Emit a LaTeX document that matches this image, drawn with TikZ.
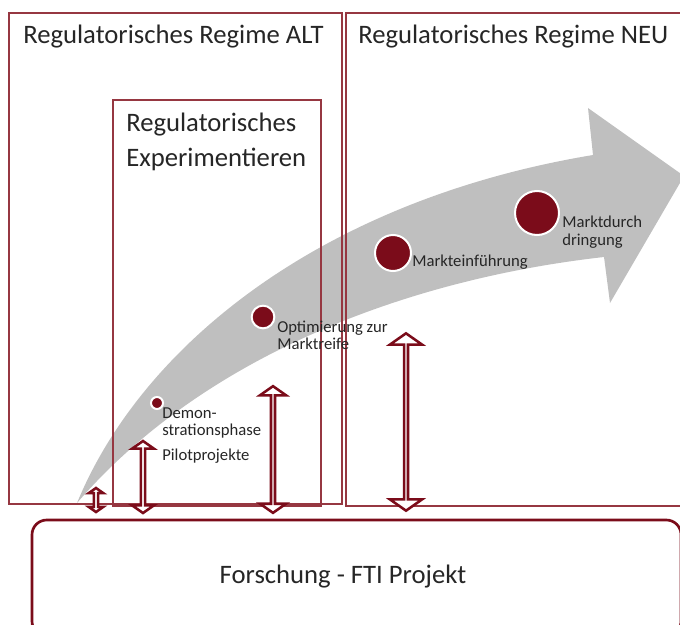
\documentclass[tikz,border=0pt]{standalone}
\usepackage{fontspec}
\setmainfont{Carlito}
\usetikzlibrary{shapes.arrows}
\definecolor{fwred}{RGB}{123,12,26}
\definecolor{rgline}{RGB}{150,55,65}
\definecolor{pathgray}{RGB}{191,191,191}
\definecolor{txtgray}{RGB}{38,38,38}

\begin{document}
\begin{tikzpicture}[x=0.75pt,y=0.75pt,yscale=-1,xscale=1,
  regbox/.style={draw=rgline, line width=0.8pt},
  phasedot/.style={circle, fill=fwred, draw=white, line width=1.5pt, inner sep=0pt},
  phaselbl/.style={anchor=west, inner sep=0.75pt, align=left, text=txtgray, font=\fontsize{12.5}{13}\selectfont},
  bigtitle/.style={anchor=west, inner sep=0.75pt, align=left, text=txtgray, font=\fontsize{20}{26}\selectfont},
  dblarr/.style={double arrow, shape border rotate=90, draw=fwred, fill=white, line width=1.9pt, inner sep=0pt, double arrow tip angle=110}
]
\useasboundingbox (0,0) rectangle (680,624);
\clip (0,0) rectangle (680,624);

%Shape: Curved Arrow [id:gray]
\fill[pathgray] (77,503) .. controls (142,345) and (322,200) .. (593,155) -- (588,108) -- (684,176) -- (610,303) -- (604,257) .. controls (400,280) and (200,360) .. (77,503) -- cycle ;

%Shape: Rectangle [id:alt]
\draw[regbox] (9,13) rectangle (342,504) ;
%Shape: Rectangle [id:neu]
\draw[regbox] (346,13) rectangle (700,506) ;
%Shape: Rectangle [id:exp]
\draw[regbox] (113,100) rectangle (321,506) ;
%Rounded Rect [id:fti]
\draw[draw=fwred, line width=2pt, rounded corners=11pt] (32,520) rectangle (681,636) ;

%Shape: Double Arrow
\node[dblarr, minimum height=18pt, minimum width=11pt, double arrow head extend=2.5pt] (arrA) at (96,500) {};
\node[dblarr, minimum height=54pt, minimum width=16.5pt, double arrow head extend=4pt] (arrB) at (143,477) {};
\node[dblarr, minimum height=95pt, minimum width=19.5pt, double arrow head extend=5.2pt] (arrC) at (273,449.5) {};
\node[dblarr, minimum height=133pt, minimum width=24pt, double arrow head extend=6.7pt] (arrD) at (406,422) {};

%Shape: Circle
\node[phasedot, minimum size=9pt] (demo) at (157,403) {};
\node[phasedot, minimum size=17pt] (opti) at (263,317) {};
\node[phasedot, minimum size=27pt] (einf) at (393,253) {};
\node[phasedot, minimum size=33pt] (durch) at (537,213) {};

% Text Node
\draw (22,37) node (altT) [bigtitle] {Regulatorisches Regime ALT};
% Text Node
\draw (357,37) node (neuT) [bigtitle] {Regulatorisches Regime NEU};
% Text Node
\draw (125,142) node (expT) [bigtitle] {Regulatorisches\\Experimentieren};
% Text Node
\draw (343,577) node (ftiT) [inner sep=0.75pt, text=txtgray, font=\fontsize{20}{26}\selectfont] {Forschung - FTI Projekt};
% Text Node
\draw (161,423) node (demoT) [phaselbl] {Demon-\\strationsphase};
% Text Node
\draw (161,456) node (pilotT) [phaselbl] {Pilotprojekte};
% Text Node
\draw (276,335) node (optiT) [phaselbl] {Optimierung zur\\Marktreife};
% Text Node
\draw (411,262) node (einfT) [phaselbl] {Markteinführung};
% Text Node
\draw (561,232) node (durchT) [phaselbl] {Marktdurch\\dringung};
\end{tikzpicture}
\end{document}
